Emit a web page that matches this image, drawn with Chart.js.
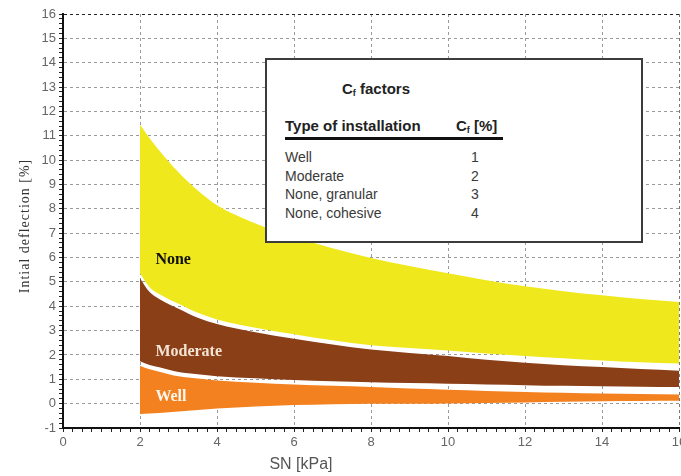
<!DOCTYPE html>
<html>
<head>
<meta charset="utf-8">
<script src="https://cdn.jsdelivr.net/npm/chart.js@4.4.1/dist/chart.umd.min.js"></script>
<style>
    html, body { margin: 0; padding: 0; background: #fff; overflow: hidden; }
    #wrap { position: relative; width: 700px; height: 476px; }
    #legendBox {
        position: absolute; left: 265px; top: 58px; width: 374px; height: 181px;
        border: 2px solid #3c3c3c; background: #fff;
        font-family: 'Liberation Sans', Arial, sans-serif; color: #3a3a3a;
    }
    #legendBox div { position: absolute; white-space: nowrap; line-height: 18px; }
    #legendBox sub { font-size: 9px; vertical-align: -2px; }
    .hdr { font-weight: bold; font-size: 15px; color: #222; }
    .row { font-size: 14px; }
    .val { font-size: 14px; width: 20px; text-align: center; }
    #rule { height: 3px; background: #111; }
</style>
</head>
<body>
<div id="wrap">
    <canvas id="deflectionChart" width="700" height="476"></canvas>
    <div id="legendBox">
        <div class="hdr" style="left:75px; top:20px;">C<sub>f</sub> factors</div>
        <div class="hdr" style="left:18px; top:57px;">Type of installation</div>
        <div class="hdr" style="left:189px; top:57px;">C<sub>f</sub> [%]</div>
        <div id="rule" style="left:18px; top:77px; width:218px;"></div>
        <div class="row" style="left:18px; top:88px;">Well</div>
        <div class="row" style="left:18px; top:107px;">Moderate</div>
        <div class="row" style="left:18px; top:125px;">None, granular</div>
        <div class="row" style="left:18px; top:144px;">None, cohesive</div>
        <div class="val" style="left:198px; top:88px;">1</div>
        <div class="val" style="left:198px; top:107px;">2</div>
        <div class="val" style="left:198px; top:125px;">3</div>
        <div class="val" style="left:198px; top:144px;">4</div>
    </div>
</div>
<script>
// SN [kPa] sample positions
const sn = [2, 2.25, 2.5, 3, 3.5, 4, 5, 6, 7, 8, 9, 10, 11, 12, 13, 14, 15, 16];

// band boundaries, initial deflection [%]
const noneHigh = [11.45, 10.9, 10.4, 9.5, 8.75, 8.15, 7.4, 6.85, 6.38, 5.98, 5.65, 5.35, 5.07, 4.82, 4.62, 4.45, 4.3, 4.17];
const noneLow  = [5.35, 4.78, 4.5, 4.1, 3.73, 3.46, 3.12, 2.85, 2.6, 2.4, 2.28, 2.18, 2.06, 1.96, 1.86, 1.77, 1.7, 1.65];
const modHigh  = [5.15, 4.58, 4.3, 3.9, 3.53, 3.27, 2.93, 2.66, 2.43, 2.22, 2.08, 1.96, 1.8, 1.68, 1.58, 1.5, 1.42, 1.35];
const modLow   = [1.74, 1.59, 1.49, 1.3, 1.21, 1.13, 1.04, 0.97, 0.92, 0.88, 0.85, 0.82, 0.79, 0.76, 0.73, 0.71, 0.69, 0.68];
const wellHigh = [1.56, 1.41, 1.31, 1.12, 1.03, 0.95, 0.86, 0.79, 0.73, 0.68, 0.62, 0.57, 0.52, 0.48, 0.45, 0.42, 0.4, 0.38];
const wellLow  = [-0.43, -0.4, -0.38, -0.32, -0.26, -0.2, -0.12, -0.06, -0.02, 0.0, 0.0, 0.01, 0.03, 0.05, 0.08, 0.1, 0.11, 0.12];

// axis tick labels
const xTickLabels = ['0', '2', '4', '6', '8', '10', '12', '14', '16'];
const yTickLabels = ['-1', '0', '1', '2', '3', '4', '5', '6', '7', '8', '9', '10', '11', '12', '13', '14', '15', '16'];

const xTitle = 'SN [kPa]';
const yTitle = 'Intial deflection [%]';

const YELLOW = '#efe81c';
const BROWN = '#8a3f17';
const ORANGE = '#f4811f';

const toPoints = (vals) => vals.map((v, i) => ({ x: sn[i], y: v }));

const isWhole = v => Math.abs(v - Math.round(v)) < 1e-6;

function band(label, vals, color, fill) {
    return {
        label: label,
        data: toPoints(vals),
        borderWidth: 0,
        pointRadius: 0,
        backgroundColor: color,
        fill: fill,
        cubicInterpolationMode: 'monotone'
    };
}

// band names drawn on the chart, anchored in data units
const bandText = [
    { text: 'None', x: 2.4, y: 5.9, color: '#111' },
    { text: 'Moderate', x: 2.4, y: 2.13, color: '#f3e4d4' },
    { text: 'Well', x: 2.4, y: 0.28, color: '#fff6ee' }
];

const textPlugin = {
    id: 'textPlugin',
    afterDatasetsDraw(chart) {
        const { ctx, scales: { x, y } } = chart;
        ctx.save();
        ctx.font = 'bold 16px "Liberation Serif", "Times New Roman", serif';
        ctx.textBaseline = 'middle';
        ctx.textAlign = 'left';
        bandText.forEach(t => {
            ctx.fillStyle = t.color;
            ctx.fillText(t.text, x.getPixelForValue(t.x), y.getPixelForValue(t.y));
        });
        ctx.restore();
    },
    afterDraw(chart) {
        const { ctx, chartArea } = chart;
        ctx.save();
        // x title
        ctx.font = '16px "Liberation Sans", Arial, sans-serif';
        ctx.fillStyle = '#555';
        ctx.textAlign = 'center';
        ctx.textBaseline = 'middle';
        ctx.fillText(xTitle, chartArea.left + 238, 465);
        // y title
        ctx.translate(25, 226);
        ctx.rotate(-Math.PI / 2);
        ctx.font = '14px "Liberation Serif", "Times New Roman", serif';
        ctx.fillStyle = '#333';
        if ('letterSpacing' in ctx) ctx.letterSpacing = '1px';
        ctx.fillText(yTitle, 0, 0);
        ctx.restore();
    }
};

const tickFont = { family: '"Liberation Sans", Arial, sans-serif', size: 13 };

new Chart(document.getElementById('deflectionChart'), {
    type: 'line',
    data: {
        datasets: [
            band('None', noneHigh, YELLOW, '+1'),
            band('None low', noneLow, YELLOW, false),
            band('Moderate', modHigh, BROWN, '+1'),
            band('Moderate low', modLow, BROWN, false),
            band('Well', wellHigh, ORANGE, '+1'),
            band('Well low', wellLow, ORANGE, false)
        ]
    },
    options: {
        responsive: false,
        animation: false,
        layout: { padding: { left: 0, top: 14, right: 21, bottom: 0 } },
        plugins: {
            legend: { display: false },
            tooltip: { enabled: false }
        },
        scales: {
            x: {
                type: 'linear',
                min: 0,
                max: 16,
                afterFit: (scale) => { scale.height = 48; },
                ticks: {
                    stepSize: 0.25,
                    autoSkip: false,
                    maxRotation: 0,
                    padding: 3,
                    color: '#666',
                    font: tickFont,
                    callback: (v) => {
                        if (!isWhole(v)) return '';
                        const s = String(Math.round(v));
                        return xTickLabels.includes(s) ? s : '';
                    }
                },
                grid: {
                    tickLength: 4,
                    tickColor: '#222',
                    lineWidth: 1,
                    color: (c) => {
                        const v = c.tick ? c.tick.value : 0;
                        if (!isWhole(v) || Math.round(v) % 2 !== 0 || Math.round(v) === 0) return 'rgba(0,0,0,0)';
                        return Math.round(v) === 16 ? '#777' : '#9a9a9a';
                    }
                },
                border: { display: true, color: '#111', width: 2, dash: [3, 3] }
            },
            y: {
                min: -1,
                max: 16,
                afterFit: (scale) => { scale.width = 63; },
                ticks: {
                    stepSize: 0.2,
                    autoSkip: false,
                    padding: 3,
                    color: '#666',
                    font: tickFont,
                    callback: (v) => {
                        if (!isWhole(v)) return '';
                        const s = String(Math.round(v));
                        return yTickLabels.includes(s) ? s : '';
                    }
                },
                grid: {
                    tickLength: 4,
                    tickColor: '#222',
                    lineWidth: 1,
                    color: (c) => {
                        const v = c.tick ? c.tick.value : 0;
                        if (!isWhole(v) || Math.round(v) === -1) return 'rgba(0,0,0,0)';
                        return Math.round(v) === 16 ? '#222' : '#9a9a9a';
                    }
                },
                border: { display: true, color: '#111', width: 2, dash: [3, 3] }
            }
        }
    },
    plugins: [textPlugin]
});
</script>
</body>
</html>
